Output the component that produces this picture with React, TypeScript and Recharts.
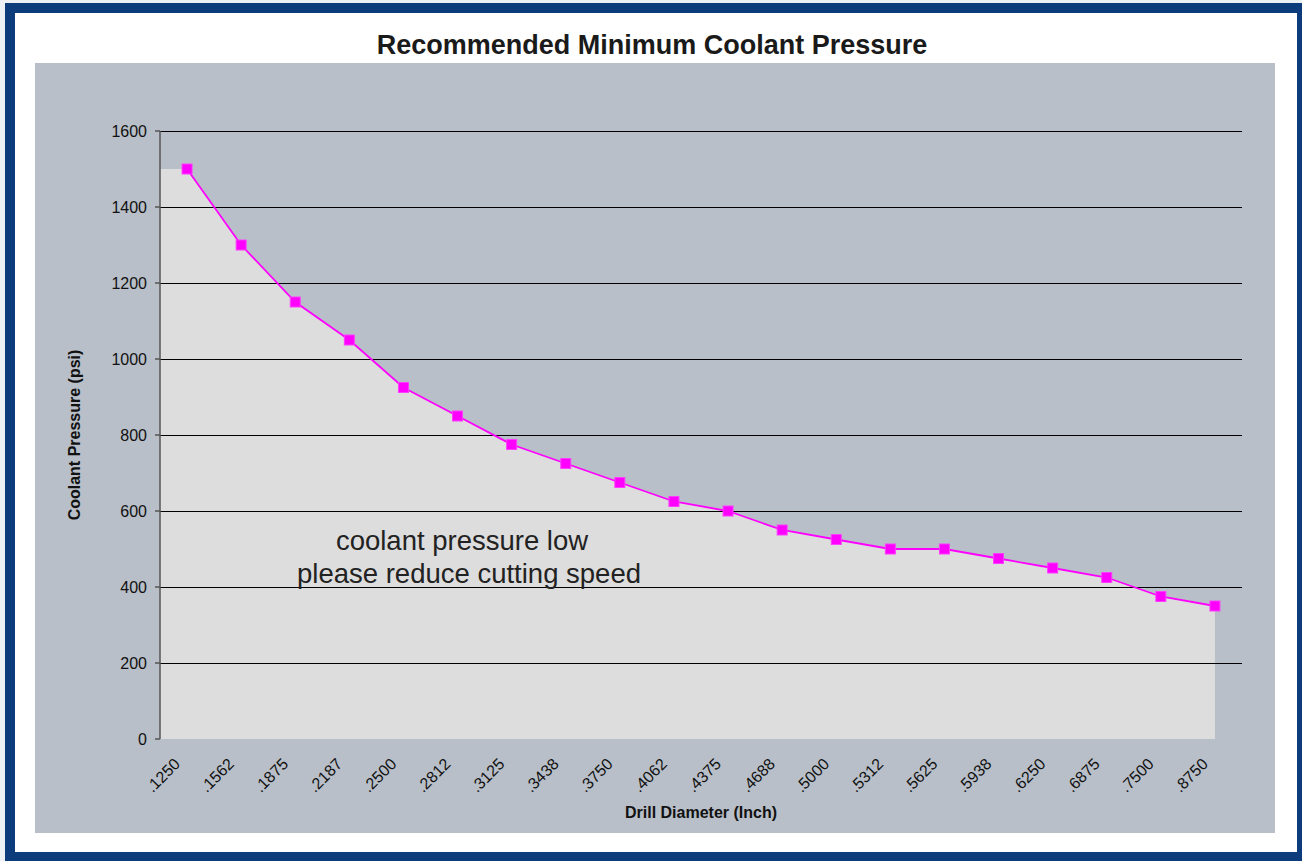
import React from 'react';
import { ComposedChart, Line, Area, XAxis, YAxis, ReferenceLine } from 'recharts';

const categories = ['.1250', '.1562', '.1875', '.2187', '.2500', '.2812', '.3125', '.3438', '.3750', '.4062', '.4375', '.4688', '.5000', '.5312', '.5625', '.5938', '.6250', '.6875', '.7500', '.8750'];
const pressure = [1500, 1300, 1150, 1050, 925, 850, 775, 725, 675, 625, 600, 550, 525, 500, 500, 475, 450, 425, 375, 350];
const yTicks = [0, 200, 400, 600, 800, 1000, 1200, 1400, 1600];

const lineData = categories.map((c, i) => ({ pos: i + 0.5, label: c, psi: pressure[i] }));
const areaData = [{ pos: 0, label: '', psi: pressure[0] }, ...lineData];
const boundaries = categories.map((_, i) => i).concat([categories.length]);
const centers = categories.map((_, i) => i + 0.5);

const FONT = '"Liberation Sans", Arial, Helvetica, sans-serif';

const LabelTick = (props: any) => {
  const { x, y, payload } = props;
  const i = Math.round(payload.value - 0.5);
  const ax = x - 6;
  const ay = y + 26;
  return (
    <text x={ax} y={ay} transform={`rotate(-45, ${ax}, ${ay})`} textAnchor="end" fontSize={16} fill="#111" fontFamily={FONT}>
      {categories[i]}
    </text>
  );
};

const SquareDot = (props: any) => {
  const { cx, cy, index } = props;
  if (cx == null || cy == null) return <g key={`d${index}`} />;
  return <rect key={`d${index}`} x={cx - 5} y={cy - 5} width={10} height={10} fill="#ff00ff" stroke="#ff3cff" strokeWidth={1} />;
};

export default function App() {
  return (
    <div style={{ position: 'absolute', left: 0, top: 0, width: 1302, height: 861, overflow: 'hidden', background: '#eef1f4', fontFamily: FONT }}>
      <div style={{ position: 'absolute', left: 5, top: 3, width: 1282, height: 839, border: '10px solid #0c3c7c', background: '#ffffff' }} />
      <div style={{ position: 'absolute', left: 35, top: 63, width: 1240, height: 770, background: '#b8bfc8' }}>
        <ComposedChart width={1240} height={770} margin={{ top: 68, right: 33, bottom: 0, left: 0 }}>
          <Area
            xAxisId="marks"
            data={areaData}
            dataKey="psi"
            type="linear"
            stroke="none"
            fill="#dddddd"
            fillOpacity={1}
            isAnimationActive={false}
            dot={false}
            activeDot={false}
          />
          {yTicks.slice(1).map((t) => (
            <ReferenceLine key={t} xAxisId="marks" y={t} stroke="#000000" strokeWidth={1} shapeRendering="crispEdges" />
          ))}
          <XAxis
            xAxisId="marks"
            type="number"
            dataKey="pos"
            domain={[0, categories.length]}
            ticks={boundaries}
            tick={false}
            height={0}
            tickSize={5}
            axisLine={{ stroke: '#333', strokeWidth: 1.5 }}
            tickLine={{ stroke: '#555', strokeWidth: 1.5 }}
            allowDataOverflow
          />
          <XAxis
            xAxisId="lab"
            type="number"
            dataKey="pos"
            domain={[0, categories.length]}
            ticks={centers}
            tick={<LabelTick />}
            height={94}
            tickSize={0}
            tickMargin={0}
            axisLine={false}
            tickLine={false}
            interval={0}
            allowDataOverflow
          />
          <YAxis
            type="number"
            domain={[0, 1600]}
            ticks={yTicks}
            width={125}
            tickSize={5}
            tickMargin={8}
            interval={0}
            axisLine={{ stroke: '#555', strokeWidth: 1.5 }}
            tickLine={{ stroke: '#555', strokeWidth: 1.5 }}
            tick={{ fontSize: 16, fill: '#111', fontFamily: FONT }}
          />
          <Line
            xAxisId="marks"
            data={lineData}
            dataKey="psi"
            type="linear"
            stroke="#ff00ff"
            strokeWidth={1.8}
            dot={<SquareDot />}
            activeDot={false}
            isAnimationActive={false}
          />
        </ComposedChart>
      </div>
      <svg width={1302} height={861} style={{ position: 'absolute', left: 0, top: 0, pointerEvents: 'none' }}>
        <text x={652} y={54} textAnchor="middle" fontSize={27} fontWeight="bold" fill="#1a1a1a" fontFamily={FONT}>
          Recommended Minimum Coolant Pressure
        </text>
        <text transform="translate(79.5,435) rotate(-90)" textAnchor="middle" fontSize={16} fontWeight="bold" fill="#111" fontFamily={FONT}>
          Coolant Pressure (psi)
        </text>
        <text x={701} y={818} textAnchor="middle" fontSize={16} fontWeight="bold" fill="#111" fontFamily={FONT}>
          Drill Diameter (Inch)
        </text>
        <text x={462} y={550} textAnchor="middle" fontSize={27.5} fill="#222" fontFamily={FONT}>
          coolant pressure low
        </text>
        <text x={469} y={583} textAnchor="middle" fontSize={27.5} fill="#222" fontFamily={FONT}>
          please reduce cutting speed
        </text>
      </svg>
    </div>
  );
}
